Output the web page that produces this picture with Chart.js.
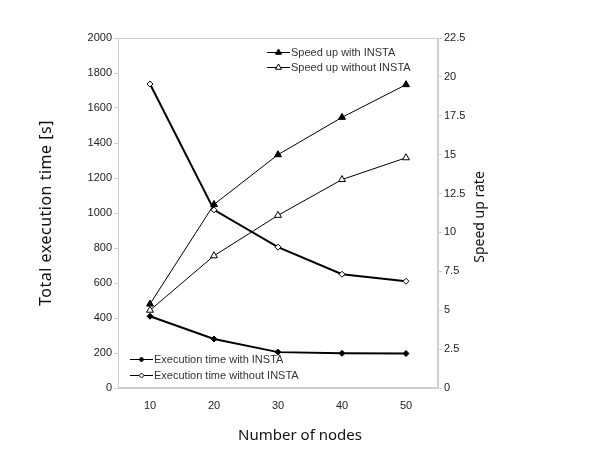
<!DOCTYPE html>
<html>
<head>
<meta charset="utf-8">
<script src="https://cdn.jsdelivr.net/npm/chart.js"></script>
<style>
  html, body { margin: 0; padding: 0; background: #fff; }
  #wrap { width: 600px; height: 450px; }
</style>
</head>
<body>
<div id="wrap"><canvas id="chart" width="600" height="450"></canvas></div>
<script>
// Data
const nodes = ['10', '20', '30', '40', '50'];
const execWithInsta = [410, 280, 205, 198, 197];
const execWithoutInsta = [1737, 1018, 805, 650, 610];
const speedWithInsta = [5.4, 11.8, 15.0, 17.4, 19.5];
const speedWithoutInsta = [5.0, 8.5, 11.1, 13.4, 14.8];
const leftTicks = [0, 200, 400, 600, 800, 1000, 1200, 1400, 1600, 1800, 2000];
const rightTicks = [0, 2.5, 5, 7.5, 10, 12.5, 15, 17.5, 20, 22.5];

const frameColor = '#cfcfcf';
const tickFont = { family: 'Liberation Sans, Arial, sans-serif', size: 11 };
const titleFamily = 'Noto Sans, Open Sans, sans-serif';

// frame around the plot area (top + right lines included)
const framePlugin = {
  id: 'frame',
  afterDraw(chart) {
    const { ctx, chartArea: a } = chart;
    ctx.save();
    ctx.strokeStyle = frameColor;
    ctx.lineWidth = 1;
    ctx.strokeRect(a.left + 0.5, a.top + 0.5, a.right - a.left - 1, a.bottom - a.top - 1);
    ctx.restore();
  }
};

// axis titles: placed like the reference (x title centred on the page, right title reads upward)
const axisTitles = [
  { text: 'Number of nodes', x: 300, y: 436, rot: 0, size: 15, spacing: 0 },
  { text: 'Total execution time [s]', x: 46, y: 213, rot: -Math.PI / 2, size: 16, spacing: 0.5 },
  { text: 'Speed up rate', x: 480, y: 217, rot: -Math.PI / 2, size: 14, spacing: 0 }
];
const titlesPlugin = {
  id: 'axisTitles',
  afterDraw(chart) {
    const ctx = chart.ctx;
    axisTitles.forEach(t => {
      ctx.save();
      ctx.translate(t.x, t.y);
      ctx.rotate(t.rot);
      ctx.fillStyle = '#111';
      ctx.font = t.size + 'px ' + titleFamily;
      ctx.letterSpacing = t.spacing + 'px';
      ctx.textAlign = 'center';
      ctx.textBaseline = 'middle';
      ctx.fillText(t.text, 0, 0);
      ctx.restore();
    });
  }
};

// two separate legend boxes inside the plot
const legendBoxes = [
  { datasets: [2, 3], x: 267, y: 52, gap: 15 },
  { datasets: [0, 1], x: 130, y: 359, gap: 16 }
];
const twoLegendsPlugin = {
  id: 'twoLegends',
  afterDraw(chart) {
    const ctx = chart.ctx;
    legendBoxes.forEach(box => {
      box.datasets.forEach((di, i) => {
        const ds = chart.data.datasets[di];
        const y = box.y + i * box.gap;
        ctx.save();
        ctx.strokeStyle = ds.borderColor;
        ctx.lineWidth = 1;
        ctx.beginPath();
        ctx.moveTo(box.x, y + 0.5);
        ctx.lineTo(box.x + 23, y + 0.5);
        ctx.stroke();
        ctx.fillStyle = ds.pointBackgroundColor;
        ctx.strokeStyle = ds.pointBorderColor;
        Chart.helpers.drawPoint(ctx, {
          pointStyle: ds.pointStyle, radius: ds.pointRadius - 0.5, rotation: 0, borderWidth: 1
        }, box.x + 11.5, y + 0.5);
        ctx.fillStyle = '#333';
        ctx.font = '11px Liberation Sans, Arial, sans-serif';
        ctx.textBaseline = 'middle';
        ctx.fillText(ds.label, box.x + 24, y + 1);
        ctx.restore();
      });
    });
  }
};

const ctx = document.getElementById('chart').getContext('2d');
new Chart(ctx, {
  type: 'line',
  data: {
    labels: nodes,
    datasets: [
      {
        label: 'Execution time with INSTA', data: execWithInsta, yAxisID: 'y',
        borderColor: '#000', borderWidth: 2, pointStyle: 'rectRot', pointRadius: 3,
        pointBackgroundColor: '#000', pointBorderColor: '#000', pointBorderWidth: 1, tension: 0
      },
      {
        label: 'Execution time without INSTA', data: execWithoutInsta, yAxisID: 'y',
        borderColor: '#000', borderWidth: 2, pointStyle: 'rectRot', pointRadius: 3,
        pointBackgroundColor: '#fff', pointBorderColor: '#000', pointBorderWidth: 1, tension: 0
      },
      {
        label: 'Speed up with INSTA', data: speedWithInsta, yAxisID: 'y2',
        borderColor: '#000', borderWidth: 1, pointStyle: 'triangle', pointRadius: 4,
        pointBackgroundColor: '#000', pointBorderColor: '#000', pointBorderWidth: 1, tension: 0
      },
      {
        label: 'Speed up without INSTA', data: speedWithoutInsta, yAxisID: 'y2',
        borderColor: '#000', borderWidth: 1, pointStyle: 'triangle', pointRadius: 4,
        pointBackgroundColor: '#fff', pointBorderColor: '#000', pointBorderWidth: 1, tension: 0
      }
    ]
  },
  options: {
    responsive: false,
    animation: false,
    layout: { padding: { top: 38, left: 0, right: 0, bottom: 0 } },
    plugins: { legend: { display: false }, tooltip: { enabled: false } },
    scales: {
      x: {
        offset: true,
        grid: { display: false, drawTicks: false },
        border: { color: frameColor },
        ticks: { color: '#222', font: tickFont, padding: 11 },
        afterFit(scale) { scale.height = 62; }
      },
      y: {
        position: 'left',
        min: 0, max: 2000,
        afterBuildTicks(scale) { scale.ticks = leftTicks.map(v => ({ value: v })); },
        grid: { drawOnChartArea: false, tickLength: 4, color: frameColor },
        border: { color: frameColor },
        ticks: { color: '#222', font: tickFont, padding: 2, callback: v => String(v) },
        afterFit(scale) { scale.width = 118; }
      },
      y2: {
        position: 'right',
        min: 0, max: 22.5,
        afterBuildTicks(scale) { scale.ticks = rightTicks.map(v => ({ value: v })); },
        grid: { drawOnChartArea: false, tickLength: 4, color: frameColor },
        border: { color: frameColor },
        ticks: { color: '#222', font: tickFont, padding: 2, callback: v => String(v) },
        afterFit(scale) { scale.width = 162; }
      }
    }
  },
  plugins: [framePlugin, titlesPlugin, twoLegendsPlugin]
});
</script>
</body>
</html>
